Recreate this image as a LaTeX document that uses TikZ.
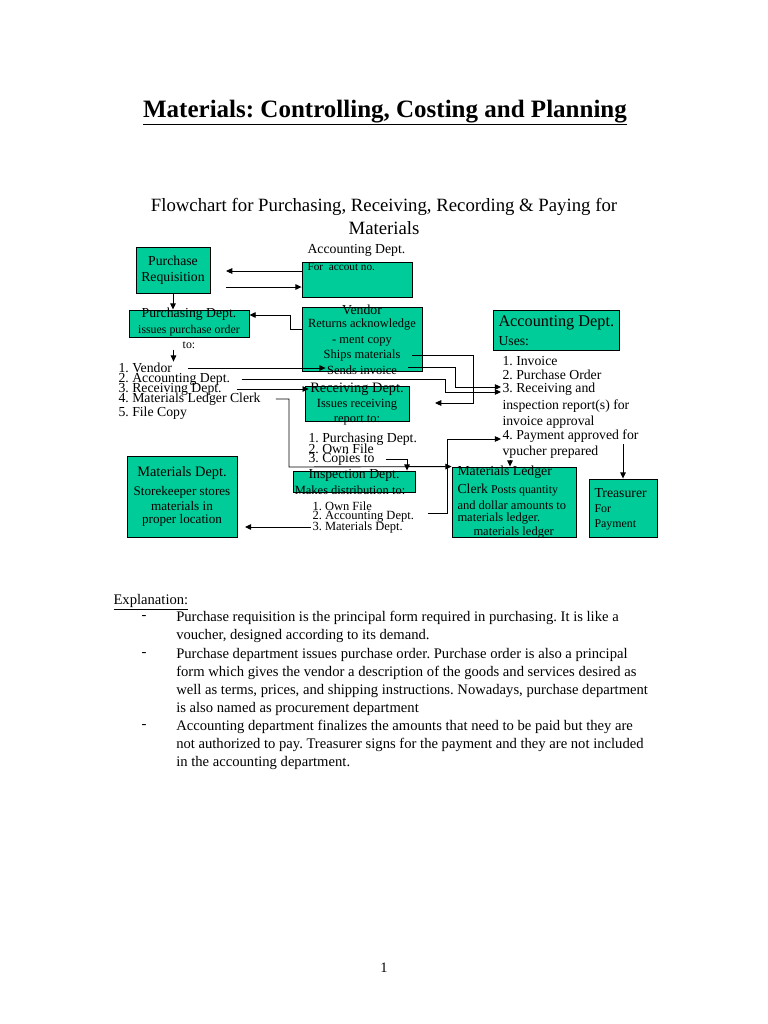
\documentclass[tikz,border=0pt]{standalone}
\usepackage{fontspec}
\setmainfont{Liberation Serif}
\usetikzlibrary{arrows.meta}
\definecolor{seagreen}{HTML}{00CC99}
\newlength{\pxl}\setlength{\pxl}{0.0281cm}
\newcommand{\fsz}[2]{\fontsize{#1}{#2}\selectfont}

\begin{document}
\frenchspacing
\begin{tikzpicture}[x=0.0281cm,y=-0.0281cm,
 box/.style={draw=black,line width=0.7pt,fill=seagreen,inner sep=0pt},
 txt/.style={inner sep=1pt,font=\fsz{10}{12}},
 item/.style={txt,anchor=west,font=\fsz{11}{13}},
 flow/.style={-{Triangle[length=5pt,width=4.5pt]},line width=0.7pt}]
\path[fill=white,use as bounding box] (0,0) rectangle (768,1024);

% headings
\node[font=\fsz{20}{24}\bfseries,anchor=base] (title) at (385,117) {\underline{Materials: Controlling, Costing and Planning}};
\node[font=\fsz{15}{18},anchor=base] (sub1) at (384,211) {Flowchart for Purchasing, Receiving, Recording \& Paying for};
\node[font=\fsz{15}{18},anchor=base] (sub2) at (384,234) {Materials};

% boxes
\node[box,minimum width=74*\pxl,minimum height=46*\pxl] (req) at (173,270) {};
\node[box,minimum width=110*\pxl,minimum height=35*\pxl] (acct) at (357,279.5) {};
\node[box,minimum width=120*\pxl,minimum height=27*\pxl] (purch) at (189,323.5) {};
\node[box,minimum width=120*\pxl,minimum height=64*\pxl] (vend) at (362,339) {};
\node[box,minimum width=126*\pxl,minimum height=40*\pxl] (uses) at (556,330) {};
\node[box,minimum width=104*\pxl,minimum height=35*\pxl] (recv) at (357,403.5) {};
\node[box,minimum width=122*\pxl,minimum height=21*\pxl] (insp) at (354,481.5) {};
\node[box,minimum width=110*\pxl,minimum height=81*\pxl] (matd) at (182,496.5) {};
\node[box,minimum width=124*\pxl,minimum height=70*\pxl] (mlc) at (514,502) {};
\node[box,minimum width=68*\pxl,minimum height=58*\pxl] (treas) at (623,508) {};

% purchase requisition / account no.
\node[txt,font=\fsz{11}{12.8},align=center] (reqtxt) at (173,270) {Purchase\\Requisition};
\node[item] (accthead) at (306,250) {Accounting Dept.};
\node[item,font=\fsz{9}{11}] (acctfor) at (306,267) {For\ \ accout no.};

% purchasing dept
\node[txt,font=\fsz{11}{13}] (ptitle) at (189,314) {Purchasing Dept.};
\node[txt,font=\fsz{9.5}{11}] (pissue) at (189,331) {issues purchase order};
\node[txt,font=\fsz{9.5}{11}] (pto) at (189,345) {to:};

% vendor
\node[txt,font=\fsz{11}{13}] (vtitle) at (362,310) {Vendor};
\node[txt] (vret) at (362,325) {Returns acknowledge};
\node[txt] (vcopy) at (362,341) {- ment copy};
\node[txt] (vship) at (362,355) {Ships materials};
\node[txt] (vsend) at (362,370) {Sends invoice};

% purchase order copies
\node[item] (lv) at (117,368) {1. Vendor};
\node[item] (la) at (117,379) {2. Accounting Dept.};
\node[item] (lr) at (117,389) {3. Receiving Dept.};
\node[item] (lm) at (117,399) {4. Materials Ledger Clerk};
\node[item] (lf) at (117,413) {5. File Copy};

% accounting dept uses
\node[item,font=\fsz{13}{15}] (uhead) at (497,323) {Accounting Dept.};
\node[item] (uuses) at (497,341) {Uses:};
\node[item] (au1) at (501,361) {1. Invoice};
\node[item] (au2) at (501,375) {2. Purchase Order};
\node[item] (au3) at (501,389) {3. Receiving and};
\node[item] (au3b) at (501,406) {inspection report(s) for};
\node[item] (au3c) at (501,422) {invoice approval};
\node[item] (au4) at (501,436) {4. Payment approved for};
\node[item] (au5) at (501,452) {vpucher prepared};

% receiving
\node[txt,font=\fsz{11.5}{13}] (rtitle) at (357,389) {Receiving Dept.};
\node[txt] (rissue) at (357,405) {Issues receiving};
\node[txt] (rrep) at (357,420) {report to:};
\node[item] (rc1) at (307,439) {1. Purchasing Dept.};
\node[item] (rc2) at (307,449) {2. Own File};
\node[item] (rc3) at (307,459) {3. Copies to};

% inspection
\node[txt,font=\fsz{11}{13}] (ititle) at (354,475) {Inspection Dept.};
\node[txt] (imake) at (350,490) {Makes distribution to:};
\node[item,font=\fsz{10}{12}] (id1) at (311,506) {1. Own File};
\node[item,font=\fsz{10}{12}] (id2) at (311,517) {2. Accounting Dept.};
\node[item,font=\fsz{10}{12}] (id3) at (311,527) {3. Materials Dept.};

% materials dept
\node[txt,font=\fsz{11.5}{13}] (mt1) at (182,473) {Materials Dept.};
\node[txt,font=\fsz{10.5}{12}] (mt2) at (182,492) {Storekeeper stores};
\node[txt,font=\fsz{10.5}{12}] (mt3) at (182,506) {materials in};
\node[txt,font=\fsz{10.5}{12}] (mt4) at (182,520) {proper location};

% materials ledger clerk
\node[item] (ml1) at (456,472) {Materials Ledger};
\node[item,font=\fsz{9.5}{12}] (ml2) at (456,490) {{\fsz{11}{13}Clerk} Posts quantity};
\node[item,font=\fsz{10}{12}] (ml3) at (456,505) {and dollar amounts to};
\node[item,font=\fsz{10}{12}] (ml4) at (456,519) {materials ledger.};
\node[item,font=\fsz{10}{12}] (ml5) at (472,533) {materials ledger};

% treasurer
\node[item] (tr1) at (593,493) {Treasurer};
\node[item,font=\fsz{9.5}{12}] (tr2) at (593,509) {For};
\node[item,font=\fsz{9.5}{12}] (tr3) at (593,525) {Payment};

% connectors
\coordinate (reqa) at (226,271);
\coordinate (reqb) at (226,287);
\coordinate (shipend) at (435,403);
\draw[flow] (acct.west |- reqa) -- (reqa);
\draw[flow] (reqb) -- (reqb -| acct.west);
\draw[flow] (req.south) -- (req.south |- purch.north);
\draw[flow] (pto.south -| lv.north east) -- (lv.north east);
\draw[flow] (vend.west |- 0,329) -| (290,315) -- (purch.east |- 0,315);
\draw[flow,shorten <=12pt] (lv.east) -- (lv.east -| vsend.west);
\draw[flow,shorten <=8pt] (la.east) -| (445,392) -- (au3.west |- 0,392);
\draw[flow,shorten <=11pt] (lr.east) -- (lr.east -| rtitle.west);
\draw[flow,shorten <=11pt] (lm.east) -| (289,467) -- (mlc.north west);
\draw[flow,shorten <=8pt] (vship.east) -| (473,403) -- (shipend);
\draw[flow,shorten <=8pt] ([yshift=2.4pt]vsend.east) -| (455,387) -- (au3.west |- 0,387);
\draw[flow,shorten <=8pt] (rc3.east) -| (insp.north -| 407,0);
\draw[flow,shorten >=6pt] (id3.west) -- (id3.west -| matd.east);
\draw[flow,shorten <=10pt] ([yshift=3.2pt]id2.east) -| (447,439) -- (au4.west |- 0,439);
\draw[flow] (au5.south -| 510,0) -- (mlc.north -| 510,0);
\draw[flow] (au4.south -| treas.north) -- (treas.north);

% explanation
\node[item,font=\fsz{11.7}{14.4}] (expl) at (112,602) {\underline{Explanation:}};
\node[item,font=\fsz{11.7}{14.4}] (dash1) at (140,617) {-};
\node[item,font=\fsz{11.7}{14.4}] (dash2) at (140,654) {-};
\node[item,font=\fsz{11.7}{14.4}] (dash3) at (140,726) {-};
\node[txt,font=\fsz{11.7}{14.4},align=left,anchor=north west,inner sep=0pt] (ex1) at (176,611)
 {Purchase requisition is the principal form required in purchasing. It is like a\\voucher, designed according to its demand.};
\node[txt,font=\fsz{11.7}{14.4},align=left,anchor=north west,inner sep=0pt] (ex2) at (176,648)
 {Purchase department issues purchase order. Purchase order is also a principal\\form which gives the vendor a description of the goods and services desired as\\well as terms, prices, and shipping instructions. Nowadays, purchase department\\is also named as procurement department};
\node[txt,font=\fsz{11.7}{14.4},align=left,anchor=north west,inner sep=0pt] (ex3) at (176,720)
 {Accounting department finalizes the amounts that need to be paid but they are\\not authorized to pay. Treasurer signs for the payment and they are not included\\in the accounting department.};

\node[txt,font=\fsz{11.5}{14}] (pnum) at (384,968) {1};
\end{tikzpicture}
\end{document}
